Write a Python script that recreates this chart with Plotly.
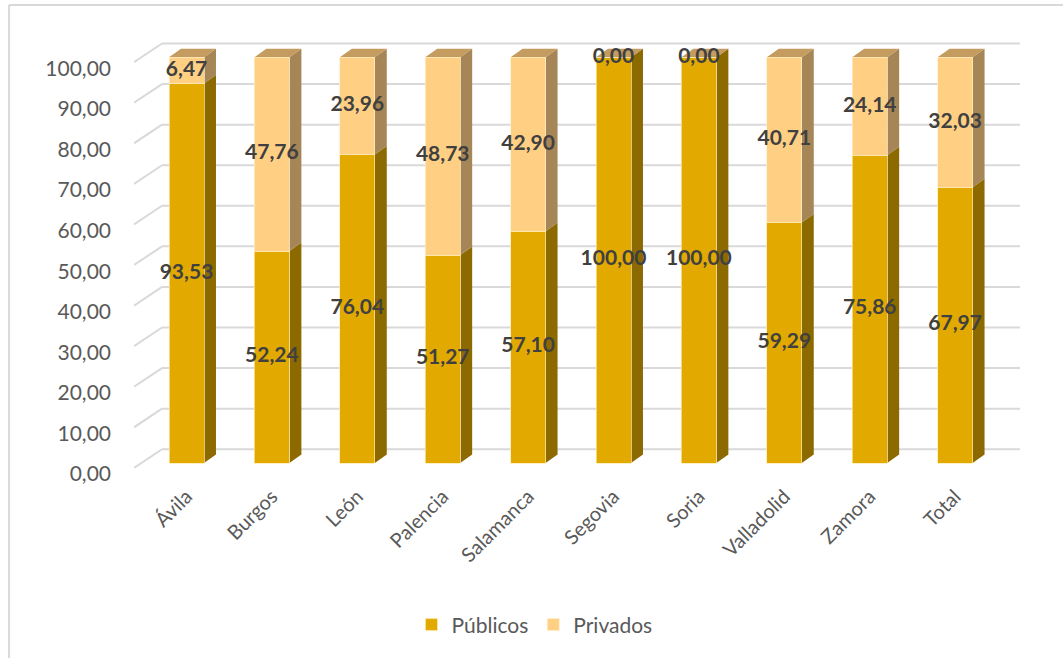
import plotly.graph_objects as go

# porcentaje de centros públicos / privados por provincia
provincias = ['Ávila', 'Burgos', 'León', 'Palencia', 'Salamanca',
              'Segovia', 'Soria', 'Valladolid', 'Zamora', 'Total']
publicos = [93.53, 52.24, 76.04, 51.27, 57.10, 100.00, 100.00, 59.29, 75.86, 67.97]
privados = [6.47, 47.76, 23.96, 48.73, 42.90, 0.00, 0.00, 40.71, 24.14, 32.03]
ticks_y = [0, 10, 20, 30, 40, 50, 60, 70, 80, 90, 100]

C_PUB = '#E2AA00'
C_PUB_SIDE = '#8C6A00'
C_PRI = '#FFD084'
C_PRI_SIDE = '#A68556'
C_TOP = '#C49C60'
GRID = '#D9D9D9'
FONT = 'Lato'

idx = list(range(len(provincias)))
W = 0.41      # ancho de la cara frontal
DX = 0.14     # profundidad (unidades x)
DY = 2.1      # profundidad (unidades y)

fig = go.Figure()
fig.add_trace(go.Bar(x=idx, y=publicos, name='Públicos', width=W,
                     marker=dict(color=C_PUB, line=dict(color='rgba(255,235,170,0.7)', width=1))))
fig.add_trace(go.Bar(x=idx, y=privados, name='Privados', width=W,
                     marker=dict(color=C_PRI, line=dict(color='rgba(255,240,200,0.7)', width=1))))

# etiquetas centradas en cada segmento (incluye los 0,00)
lab_x = idx + idx
lab_y = [p / 2 for p in publicos] + [p + q / 2 for p, q in zip(publicos, privados)]
lab_v = publicos + privados
fig.add_trace(go.Scatter(x=lab_x, y=lab_y, mode='text', showlegend=False,
                         text=[f'{v:.2f}'.replace('.', ',') for v in lab_v],
                         textfont=dict(family=FONT, size=21, color='#404040', weight='bold'),
                         hoverinfo='skip'))

shapes = []
# pared del fondo y diagonales del suelo/pared izquierda
x_front = -0.615
x_back = -0.287
for t in ticks_y:
    shapes.append(dict(type='line', xref='x', yref='y', x0=x_back, x1=9.76,
                       y0=t + 3.4, y1=t + 3.4, line=dict(color=GRID, width=2), layer='below'))
    shapes.append(dict(type='line', xref='x', yref='y', x0=x_front, x1=x_back,
                       y0=t - 1.2, y1=t + 3.4, line=dict(color=GRID, width=2), layer='below'))

# caras laterales y superior de cada columna
for i, p, q in zip(idx, publicos, privados):
    xr = i + W / 2
    xl = i - W / 2
    for y0, y1, col in [(0, p, C_PUB_SIDE), (p, p + q, C_PRI_SIDE)]:
        if y1 - y0 <= 0:
            continue
        path = f'M{xr},{y0} L{xr + DX},{y0 + DY} L{xr + DX},{y1 + DY} L{xr},{y1} Z'
        shapes.append(dict(type='path', xref='x', yref='y', path=path,
                           fillcolor=col, line=dict(width=0), layer='below'))
    top = p + q
    path = f'M{xl},{top} L{xl + DX},{top + DY} L{xr + DX},{top + DY} L{xr},{top} Z'
    shapes.append(dict(type='path', xref='x', yref='y', path=path,
                       fillcolor=C_TOP, line=dict(width=0), layer='below'))

# borde del gráfico
shapes.append(dict(type='line', xref='paper', yref='paper', x0=-0.141, x1=1.05,
                   y0=1.0556, y1=1.0556, line=dict(color=GRID, width=2)))
shapes.append(dict(type='line', xref='paper', yref='paper', x0=-0.141, x1=-0.141,
                   y0=1.0556, y1=-0.4, line=dict(color=GRID, width=2)))

fig.update_layout(
    barmode='stack',
    width=1063, height=658,
    margin=dict(l=134, r=43, t=30, b=178),
    paper_bgcolor='white', plot_bgcolor='white',
    separators=',.',
    font=dict(family=FONT, size=20, color='#595959'),
    shapes=shapes,
    showlegend=True,
    legend=dict(orientation='h', x=0.452, xanchor='center', y=-0.322, yanchor='middle',
                traceorder='normal',
                font=dict(family=FONT, size=21, color='#595959'), itemwidth=30),
    xaxis=dict(range=[-0.615, 9.76], tickmode='array', tickvals=idx, ticktext=provincias,
               tickangle=-45, showgrid=False, zeroline=False, showline=False, ticks=''),
    yaxis=dict(range=[-4.19, 106.73], tickmode='array', tickvals=ticks_y, tickformat='.2f',
               tickfont=dict(size=21),
               showgrid=False, zeroline=False, showline=False, ticks='',
               ticklabelstandoff=22, ticklabelshift=11),
)

fig.write_html('out.html', config={'displayModeBar': False},
               post_script="document.body.style.margin='0';")
